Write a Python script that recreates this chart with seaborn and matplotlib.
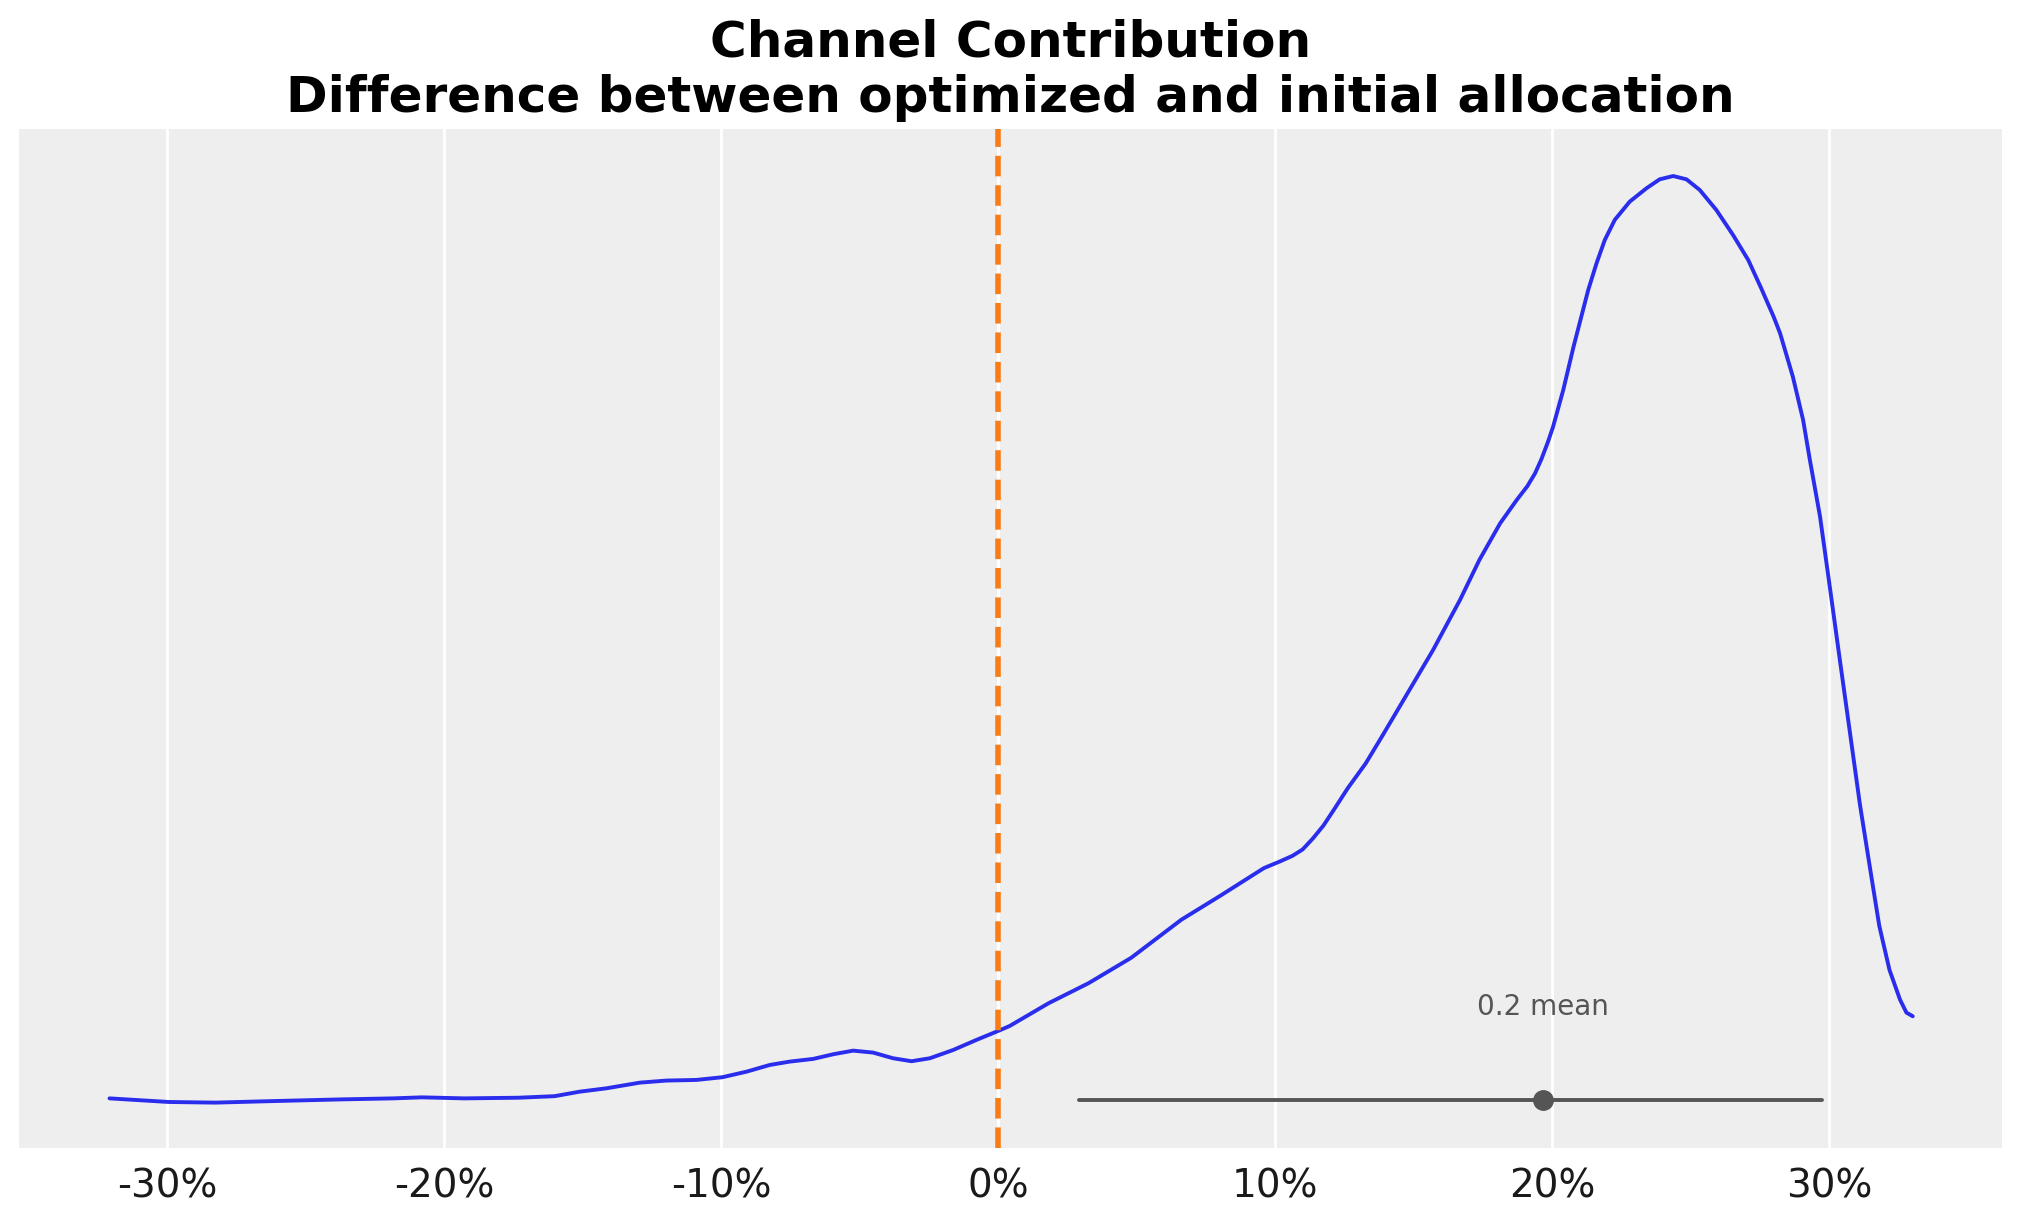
# Posterior of the change in channel contribution (optimized vs initial allocation)
import numpy as np
import pandas as pd
import matplotlib.pyplot as plt
import seaborn as sns

# KDE curve (x = share difference, y = density)
diff_x = [-0.3209, -0.2995, -0.2827, -0.2636, -0.2375, -0.2184, -0.2082, -0.1928,
          -0.1733, -0.1602, -0.1511, -0.1415, -0.1294, -0.1198, -0.1090, -0.0996,
          -0.0909, -0.0825, -0.0753, -0.0668, -0.0596, -0.0524, -0.0452, -0.0380,
          -0.0313, -0.0247, -0.0163, -0.0079, 0.0, 0.0041, 0.0182, 0.0326,
          0.0480, 0.0661, 0.0801, 0.0959, 0.1015, 0.1062, 0.1099, 0.1136,
          0.1174, 0.1211, 0.1262, 0.1327, 0.1388, 0.1449, 0.1570, 0.1667,
          0.1737, 0.1812, 0.1872, 0.1910, 0.1938, 0.1961, 0.1984, 0.2003,
          0.2021, 0.2040, 0.2077, 0.2130, 0.2160, 0.2190, 0.2226, 0.2280,
          0.2340, 0.2388, 0.2437, 0.2485, 0.2533, 0.2593, 0.2653, 0.2708,
          0.2755, 0.2800, 0.2823, 0.2869, 0.2906, 0.2930, 0.2967, 0.3004,
          0.3037, 0.3074, 0.3111, 0.3149, 0.3181, 0.3218, 0.3256, 0.3279,
          0.3302]
density = [0.0595, 0.0399, 0.0364, 0.0441, 0.0539, 0.0595, 0.0651, 0.0595,
           0.0630, 0.0714, 0.0959, 0.1141, 0.1449, 0.1561, 0.1596, 0.1743,
           0.2044, 0.2408, 0.2590, 0.2737, 0.2989, 0.3185, 0.3080, 0.2772,
           0.2611, 0.2772, 0.3220, 0.3766, 0.4256, 0.4522, 0.5761, 0.6846,
           0.8225, 1.0290, 1.1585, 1.3090, 1.3440, 1.3755, 1.4105, 1.4700,
           1.5400, 1.6240, 1.7430, 1.8780, 2.0300, 2.1850, 2.4930, 2.7640,
           2.9810, 3.1800, 3.3070, 3.3810, 3.4510, 3.5280, 3.6190, 3.7030,
           3.8010, 3.9040, 4.1380, 4.4460, 4.5910, 4.7180, 4.8270, 4.9260,
           4.9980, 5.0470, 5.0650, 5.0470, 4.9890, 4.8800, 4.7450, 4.6090,
           4.4550, 4.3000, 4.2110, 3.9760, 3.7410, 3.5280, 3.2180, 2.8180,
           2.4570, 2.0570, 1.6560, 1.2960, 0.9960, 0.7560, 0.5950, 0.5250,
           0.5050]

# summary stats
hdi_low, hdi_high = 0.0293, 0.2976
mean_val = 0.1966
mean_label = "0.2 mean"

tick_vals = [-0.3, -0.2, -0.1, 0.0, 0.1, 0.2, 0.3]
tick_labels = ["-30%", "-20%", "-10%", "0%", "10%", "20%", "30%"]

df = pd.DataFrame({"diff": diff_x, "density": density})

sns.set_style("darkgrid", {"axes.facecolor": "#eeeeee", "grid.color": "white"})
plt.rcParams['font.family'] = ['DejaVu Sans']

fig, ax = plt.subplots(figsize=(10.115, 6.115), dpi=200)
fig.subplots_adjust(left=0.0095, right=0.9896, top=0.8945, bottom=0.0613)

sns.lineplot(data=df, x="diff", y="density", color="#2a2eec", linewidth=1.4,
             estimator=None, ax=ax, zorder=3)

# reference line at zero change
ax.axvline(0, color="#fa7c17", linestyle="--", linewidth=2, zorder=4)

# HDI bar with mean point
hdi_y = 0.049
ax.plot([hdi_low, hdi_high], [hdi_y, hdi_y], color="#555555", linewidth=1.4,
        solid_capstyle="round", zorder=3)
ax.plot(mean_val, hdi_y, "o", color="#555555", markersize=6.5, zorder=4)
ax.text(mean_val, 0.553, mean_label, ha="center", va="center", fontsize=10,
        color="#555555")

ax.set_xlim(-0.3535, 0.3624)
ax.set_ylim(-0.21, 5.32)
ax.set_xticks(tick_vals)
ax.set_xticklabels(tick_labels, fontsize=14, color="#1a1a1a")
ax.tick_params(axis="x", length=0, pad=7)
ax.set_yticks([])
ax.grid(axis="y", visible=False)
ax.grid(axis="x", color="white", linewidth=1)
ax.set_xlabel("")
ax.set_ylabel("")
for s in ax.spines.values():
    s.set_visible(False)

ax.set_title("Channel Contribution\nDifference between optimized and initial allocation",
             fontsize=18, fontweight="bold", color="black")

fig.savefig("out.png", dpi=200)
